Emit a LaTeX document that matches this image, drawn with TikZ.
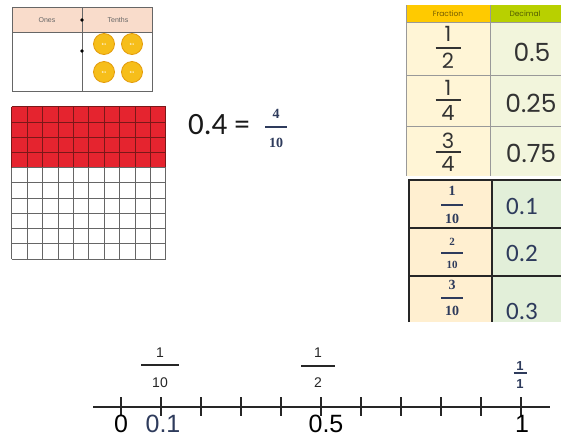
\documentclass[tikz,border=0pt]{standalone}
\usepackage{fontspec}
\setmainfont{Liberation Sans}
\newfontfamily\calfont{Carlito}
\newfontfamily\popfont{Poppins}
\newfontfamily\serfont{Liberation Serif}
\definecolor{pvhead}{HTML}{F9DCCB}
\definecolor{pvline}{HTML}{666666}
\definecolor{coin}{HTML}{F6BE1A}
\definecolor{coinrim}{HTML}{E39B0B}
\definecolor{gridred}{HTML}{E5242F}
\definecolor{gridredline}{HTML}{7A1818}
\definecolor{frachead}{HTML}{FFCA00}
\definecolor{dechead}{HTML}{B8D000}
\definecolor{fraccell}{HTML}{FFF5D6}
\definecolor{deccell}{HTML}{F2F5DC}
\definecolor{fraccelltwo}{HTML}{FFEFD0}
\definecolor{deccelltwo}{HTML}{E2EFD9}
\definecolor{tabtext}{HTML}{333333}
\definecolor{bluetext}{HTML}{2E3B5C}
\newcommand\frc[9]{%
  \node[#9] (#1n) at (#2,#3) {#7};
  \node[#9] (#1d) at (#2,#5) {#8};
  \coordinate (#1l) at (#2-#6,#4);
  \coordinate (#1r) at (#2+#6,#4);
  \draw[#9] (#1l) -- (#1r);}
\begin{document}
\begin{tikzpicture}[x=1pt,y=-1pt,
  every node/.style={inner sep=0pt, outer sep=0pt},
  pvtext/.style={font=\fontsize{7}{8}\selectfont, color=pvline},
  coinnode/.style={circle, minimum size=21pt, fill=coin, draw=coinrim, line width=0.8pt,
     font=\fontsize{3}{3}\selectfont\bfseries, text=white},
  topfrac/.style={font=\popfont\fontsize{21}{22}\selectfont, color=tabtext, line width=1.6pt},
  topdec/.style={font=\popfont\fontsize{25}{26}\selectfont, text=tabtext},
  lowfrac/.style={font=\serfont\bfseries\fontsize{14}{15}\selectfont, color=bluetext, line width=1.6pt},
  lowfracs/.style={font=\serfont\bfseries\fontsize{11}{12}\selectfont, color=bluetext, line width=1.6pt},
  lowdec/.style={font=\calfont\fontsize{25}{26}\selectfont, text=bluetext},
  nlfrac/.style={font=\fontsize{14}{15}\selectfont, color=black!85, line width=1.3pt},
  nlfracc/.style={font=\bfseries\fontsize{13}{14}\selectfont, color=bluetext, line width=1.3pt},
  nllab/.style={font=\fontsize{25}{26}\selectfont, anchor=base},
  tick/.style={line width=1.6pt, black!85}
]
\useasboundingbox (0,0) rectangle (561,437);

% ---------- place value chart ----------
\fill[pvhead] (12,7) rectangle (152,32);
\draw[pvline, line width=1pt] (12,7) rectangle (152,91);
\draw[pvline, line width=0.8pt] (12,32) -- (152,32);
\draw[pvline, line width=1pt] (82,7) -- (82,91);
\fill[black] (82,20) circle (1.8pt);
\fill[black] (82,51) circle (1.8pt);
\node[pvtext] (ones) at (47,20) {Ones};
\node[pvtext] (tenths) at (118,20) {Tenths};
\node[coinnode] (c1) at (104,44) {0.1};
\node[coinnode] (c2) at (132,44) {0.1};
\node[coinnode] (c3) at (104,72) {0.1};
\node[coinnode] (c4) at (132,72) {0.1};

% ---------- hundred grid ----------
\fill[gridred] (11.7,106.7) rectangle (165.7,167.6);
\foreach \i in {0,...,10} {
  \draw[gridredline, line width=0.8pt] ({11.7+15.4*\i},106.7) -- ({11.7+15.4*\i},167.6);
  \draw[pvline, line width=0.8pt] ({11.7+15.4*\i},167.6) -- ({11.7+15.4*\i},259);
}
\foreach \j in {0,...,4} {
  \draw[gridredline, line width=0.8pt] (11.7,{106.7+15.23*\j}) -- (165.7,{106.7+15.23*\j});
}
\foreach \j in {4,...,10} {
  \draw[pvline, line width=0.8pt] (11.7,{106.7+15.23*\j}) -- (165.7,{106.7+15.23*\j});
}

% ---------- 0.4 = 4/10 ----------
\node[font=\calfont\fontsize{31}{32}\selectfont, text=black!90] (eq) at (219,125) {0.4 =};
\frc{q}{276}{114}{127}{143}{11}{4}{10}{lowfrac}

% ---------- top table ----------
\fill[frachead] (406,5) rectangle (490,22);
\fill[dechead] (490,5) rectangle (561,22);
\fill[fraccell] (406,22) rectangle (490,176);
\fill[deccell] (490,22) rectangle (561,176);
\draw[black!40, line width=0.8pt] (406,5) -- (406,176);
\draw[black!40, line width=0.8pt] (490,5) -- (490,176);
\draw[black!40, line width=0.8pt] (406,22) -- (561,22);
\draw[black!40, line width=0.8pt] (406,75) -- (561,75);
\draw[black!40, line width=0.8pt] (406,126) -- (561,126);
\node[font=\popfont\fontsize{7.5}{8}\selectfont, text=black!55!frachead] (fh) at (448,14) {Fraction};
\node[font=\popfont\fontsize{7.5}{8}\selectfont, text=black!55!dechead] (dh) at (525,14) {Decimal};
\frc{ta}{448}{34}{48}{61}{12.5}{1}{2}{topfrac}
\frc{tb}{448}{88}{100}{113}{12.5}{1}{4}{topfrac}
\frc{tc}{448}{141}{152}{164}{12.5}{3}{4}{topfrac}
\node[topdec] (da) at (532,52) {0.5};
\node[topdec] (db) at (531,103) {0.25};
\node[topdec] (dc) at (531,153) {0.75};

% ---------- lower table ----------
\fill[fraccelltwo] (408,180) rectangle (492,322);
\fill[deccelltwo] (492,180) rectangle (561,322);
\draw[black!85, line width=1.6pt] (409,322) -- (409,180) -- (561,180);
\draw[black!85, line width=1.4pt] (492,180) -- (492,322);
\draw[black!85, line width=1.2pt] (409,228) -- (561,228);
\draw[black!85, line width=1.2pt] (409,276) -- (561,276);
\frc{la}{452}{191}{205}{219}{11}{1}{10}{lowfrac}
\frc{lb}{452}{242}{253}{265}{11}{2}{10}{lowfracs}
\frc{lc}{452}{285}{298}{311}{11}{3}{10}{lowfrac}
\node[lowdec] (ea) at (522,206) {0.1};
\node[lowdec] (eb) at (522,253) {0.2};
\node[lowdec] (ec) at (522,311) {0.3};

% ---------- number line ----------
\coordinate (nlL) at (93,407);
\coordinate (nlR) at (550,407);
\draw[black!85, line width=1.3pt] (nlL) -- (nlR);
\foreach \k in {0,...,10} {
  \draw[tick] ({121+40*\k},397) -- ({121+40*\k},416);
}
\node[nllab] (l0) at (121,432) {0};
\node[nllab, text=bluetext] (l1) at (163,432) {0.1};
\node[nllab] (l5) at (326,432) {0.5};
\node[nllab] (l10) at (522,432) {1};
\frc{na}{160}{353}{365}{383}{19}{1}{10}{nlfrac}
\frc{nb}{318}{353}{366}{383}{17}{1}{2}{nlfrac}
\frc{nc}{520}{366}{373}{384}{6.5}{1}{1}{nlfracc}
\end{tikzpicture}
\end{document}
